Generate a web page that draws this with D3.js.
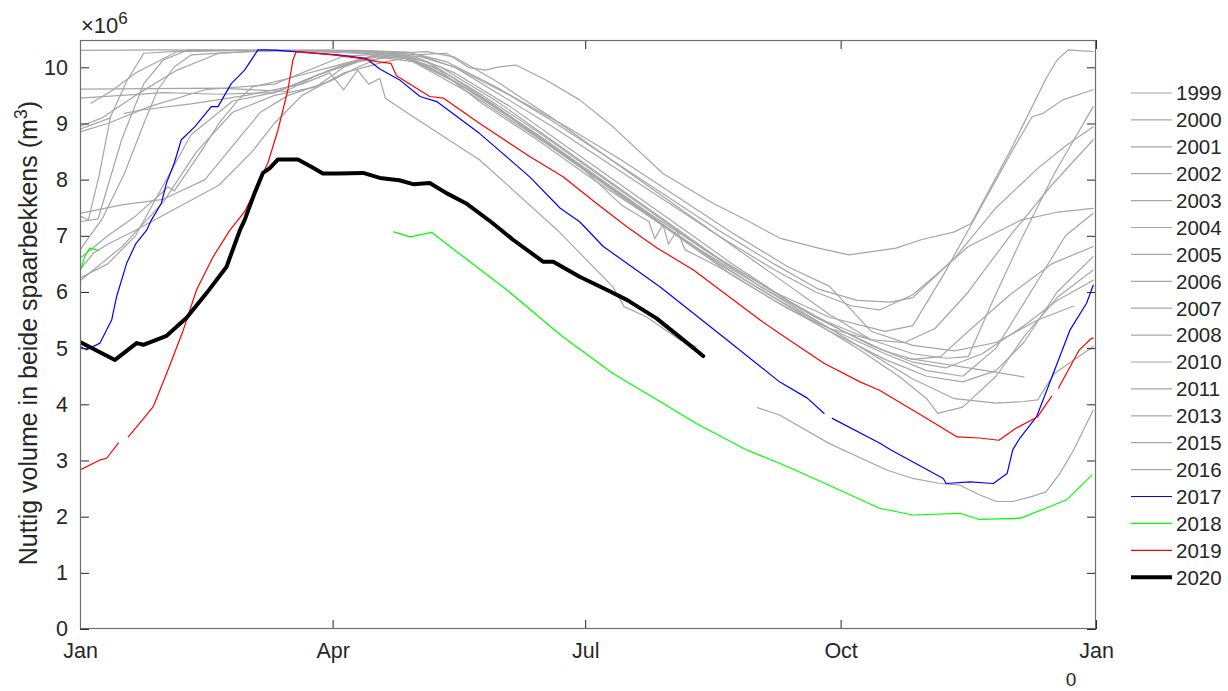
<!DOCTYPE html>
<html><head><meta charset="utf-8">
<script src="https://cdn.jsdelivr.net/npm/d3@7"></script>
<style>
body{margin:0;background:#fff;}
text{font-family:"Liberation Sans",Arial,Helvetica,sans-serif;fill:#262626;}
</style>
</head><body>
<svg id="chart" width="1228" height="691"></svg>
<script>
// ---------- DATA (day of year, volume in 10^6 m3; null = gap) ----------
const years = ["1999","2000","2001","2002","2003","2004","2005","2006","2007","2008","2010","2011","2013","2015","2016","2017","2018","2019","2020"];

const s1999 = [[0,10.30],[30,10.31],[60,10.30],[90,10.30],[110,10.28],[122,10.22],[135,10.0],[150,9.55],[170,8.95],[190,8.3],[210,7.65],[230,7.0],[250,6.4],[265,6.0],[278,5.75],[288,5.68],[300,5.95],[309,6.33],[320,6.81],[339,7.28],[352,7.42],[365,7.49]];
const s2000 = [[0,9.61],[25,9.62],[50,9.63],[74,9.57],[85,9.85],[95,10.05],[108,10.2],[120,10.22],[132,10.25],[140,10.0],[146,9.95],[150,10.0],[157,10.04],[168,9.77],[180,9.42],[192,8.94],[210,8.11],[228,7.58],[240,7.28],[252,6.96],[266,6.78],[277,6.66],[294,6.78],[303,6.93],[315,7.07],[321,7.22],[329,7.95],[336,8.6],[343,9.3],[348,9.8],[352,10.13],[356,10.31],[365,10.28]];
const s2001 = [[0,9.45],[15,9.5],[30,9.55],[50,9.52],[70,9.55],[85,9.85],[100,10.1],[115,10.2],[128,10.0],[145,9.35],[165,8.7],[185,8.0],[205,7.35],[225,6.7],[245,6.1],[265,5.55],[285,5.15],[300,4.9],[312,4.82],[320,4.85],[329,5.86],[339,6.93],[351,8.11],[365,9.3]];
const s2002 = [[0,8.95],[8,9.1],[20,9.5],[35,9.95],[50,10.25],[70,10.3],[100,10.3],[118,10.27],[132,10.1],[150,9.65],[170,9.05],[190,8.4],[210,7.75],[230,7.1],[250,6.5],[266,6.05],[280,5.85],[292,5.82],[300,5.9],[315,6.6],[330,7.5],[345,8.2],[355,8.6],[365,8.94]];
const s2003 = [[0,8.85],[10,9.0],[25,9.3],[45,9.6],[70,9.7],[95,10.2],[115,10.25],[130,10.0],[150,9.4],[170,8.7],[190,8.0],[210,7.3],[230,6.6],[250,6.0],[270,5.55],[290,5.3],[300,5.4],[311,6.3],[322,7.28],[336,8.53],[343,9.12],[347,9.18],[354,9.42],[365,9.60]];
const s2004 = [[0,7.35],[3,7.28],[7,8.1],[11,9.12],[17,9.77],[23,10.25],[40,10.3],[70,10.3],[100,10.28],[120,10.2],[135,9.9],[155,9.3],[175,8.6],[195,7.9],[215,7.2],[235,6.5],[255,5.85],[275,5.3],[290,4.95],[300,4.8],[310,4.85],[320,5.3],[335,5.95],[350,6.5],[365,6.81]];
const s2005 = [[0,7.25],[6.5,7.3],[15,8.71],[23,9.71],[30,10.13],[39,10.31],[70,10.3],[100,10.25],[118,10.15],[135,9.75],[155,9.1],[175,8.4],[195,7.7],[215,7.0],[235,6.3],[255,5.7],[270,5.35],[285,5.15],[297,5.1],[308,5.35],[320,6.0],[335,7.0],[350,7.9],[365,8.71]];
const s2006 = [[0,6.75],[8,7.3],[16,8.11],[23,9.0],[28,9.6],[34,10.01],[40,10.22],[60,10.28],[90,10.3],[115,10.2],[130,9.95],[150,9.3],[170,8.6],[190,7.9],[210,7.2],[230,6.5],[250,5.9],[270,5.35],[290,4.9],[305,4.6],[318,4.5],[330,5.0],[345,6.2],[355,7.0],[365,7.4]];
const s2007 = [[0,6.6],[10,7.0],[20,7.35],[28,7.7],[31.7,7.87],[34,7.8],[44,8.53],[50,9.0],[57,9.42],[62,9.65],[75,9.8],[90,10.0],[105,10.2],[120,10.1],[140,9.55],[160,8.9],[180,8.25],[195,7.55],[205,7.25],[207,6.95],[210,7.2],[212,6.85],[215,7.1],[218,6.75],[230,6.45],[250,5.85],[270,5.3],[290,4.8],[305,4.5],[318,4.4],[330,4.6],[340,5.1],[352,6.0],[365,6.63]];
const s2008 = [[0,6.25],[10,6.5],[20,7.0],[30,7.9],[40,8.8],[55,9.4],[70,9.55],[90,9.95],[105,10.2],[120,10.15],[140,9.6],[160,8.95],[180,8.25],[200,7.55],[220,6.85],[240,6.2],[260,5.6],[280,5.0],[295,4.5],[305,4.1],[309,3.84],[318,3.95],[330,4.5],[340,5.2],[352,5.9],[365,6.39]];
const s2010 = [[0,6.2],[15,6.8],[30,7.6],[42,8.5],[55,9.2],[70,9.5],[85,9.65],[95,10.0],[110,10.28],[125,10.1],[145,9.5],[165,8.85],[185,8.15],[205,7.45],[225,6.75],[245,6.1],[265,5.5],[285,4.9],[300,4.45],[315,4.1],[330,4.02],[340,4.05],[345,4.08],[351,4.55],[365,5.03]];
const s2011 = [[4,9.36],[12,9.6],[20,9.9],[35,10.28],[60,10.3],[90,10.3],[112,10.25],[128,9.95],[145,9.45],[165,8.8],[185,8.1],[205,7.4],[225,6.75],[245,6.15],[265,5.55],[285,5.05],[300,4.75],[312,4.65],[325,4.9],[340,5.4],[352,5.85],[365,6.21]];
const s2013 = [[0,7.4],[15,7.55],[30,7.65],[45,8.0],[55,8.6],[65,9.2],[75,9.5],[90,9.75],[100,10.0],[112,10.25],[125,10.28],[135,10.18],[150,9.75],[170,9.1],[190,8.4],[210,7.7],[230,7.0],[250,6.3],[270,5.6],[285,5.15],null,[298,4.82],[320,4.65],[340,4.49]];
const s2015 = [[0,6.4],[5,6.7],[10,6.85],[20,7.1],[35,7.5],[50,7.9],[62,8.5],[70,9.0],[80,9.5],[95,9.9],[110,10.1],[122,10.2],[135,10.0],[155,9.5],[175,8.95],[195,8.35],[215,7.7],[235,7.05],[255,6.45],[270,6.1],[285,5.3],[300,5.05],[315,4.95],[330,5.1],[345,5.5],[358,5.75]];
const s2016 = [[0,8.9],[11,9.1],null,[16,9.18],[22,9.24],[40,9.35],[60,9.5],[80,9.7],[90,9.9],[95,9.6],[100,9.95],[104,9.7],[108,9.8],[110,9.45],[120,9.12],[144,8.35],[172,7.1],[192,6.09],[196,5.74],[204,5.56],[216,5.15],[222,5.03],null,[244,3.94],[252,3.81],[270,3.3],[290.6,2.83],[300,2.68],[309.8,2.59],[317,2.56],[324,2.39],[330,2.27],[336,2.27],[343,2.36],[348,2.44],[353,2.77],[358,3.19],[365,3.9]];
const s2017 = [[0,5.03],[2.4,4.97],[7.2,5.09],[11.4,5.5],[13.2,5.92],[16.8,6.51],[20,6.85],[24,7.1],[25.7,7.28],[29.3,7.58],[31.1,7.93],[34,8.3],[36.5,8.71],[41.3,8.94],[47.3,9.3],[49.7,9.3],[54.5,9.71],[59.3,9.95],[64.1,10.31],[66.5,10.31],[71.3,10.30],[77.3,10.28],[93,10.22],[103,10.16],[108,9.97],[115,9.78],[122.5,9.48],[128.5,9.39],[144,8.82],[162,8.05],[173,7.49],[180,7.25],[188.5,6.81],[209,6.09],[233,5.15],[252,4.40],[262,4.11],[268,3.84],null,[271,3.75],[288,3.31],[292,3.19],[311,2.68],[312,2.59],[320.6,2.62],[329,2.59],[334,2.77],[336,3.19],[338.6,3.40],[344.6,3.78],[350.6,4.55],[356.6,5.32],[362.6,5.80],[365,6.12]];
const s2018 = [[0,6.36],[1.7,6.63],[3.5,6.78],[6.5,6.74],null,[113,7.07],[119,6.98],[126.7,7.06],[138,6.63],[153.7,6.04],[174,5.2],[192,4.55],[210,4.02],[222,3.66],[240,3.19],[252,2.95],[259,2.80],[273.8,2.47],[288,2.15],[300,2.03],[317,2.06],[324,1.95],[338.6,1.97],[348,2.15],[355.4,2.3],[364.5,2.74]];
const s2019 = [[0,2.83],[7.2,3.01],[9.6,3.04],[13.8,3.31],null,[17.4,3.42],[20.4,3.60],[26.4,3.96],[31.2,4.55],[37.2,5.32],[42,6.04],[48,6.63],[54,7.10],[59.3,7.43],[64,7.9],[67.7,8.3],[71.3,8.88],[74.9,9.60],[76.7,10.13],[77.9,10.28],[91,10.22],[101,10.16],[107,10.10],[112,10.07],[114,9.85],[126,9.48],[131,9.45],[144,9.00],[162,8.41],[174,8.05],[186,7.58],[197,7.16],[208,6.78],[221,6.39],[245,5.50],[252,5.26],[268,4.73],[281,4.40],[288,4.25],[304,3.78],[316,3.42],[324,3.40],[331,3.36],[337,3.57],[345,3.78],[350,4.14],null,[352.5,4.29],[360,4.97],[364.5,5.18],[365,5.18]];
const s2020 = [[0,5.11],[12.6,4.79],[20.4,5.09],[22.8,5.06],[31.2,5.22],[38.4,5.54],[45.6,5.98],[52.8,6.45],[57.6,7.10],[59.3,7.28],[62.9,7.76],[65.9,8.12],[68.3,8.20],[71.3,8.36],[78.5,8.36],[83.3,8.23],[87.5,8.11],[92.9,8.11],[102,8.12],[108,8.03],[115,7.99],[120,7.92],[126,7.94],[132,7.76],[139,7.58],[148,7.25],[156,6.93],[166.8,6.54],[170.5,6.54],[180,6.27],[189.7,6.04],[197,5.86],[207.7,5.53],[216,5.20],[224.5,4.86]];

const xTickDays = [0,91,182,274,366];
const xTickLabels = ["Jan","Apr","Jul","Oct","Jan"];
const yTickValues = [0,1,2,3,4,5,6,7,8,9,10];
const yearOffsetLabel = "0";

// ---------- STYLE ----------
const seriesData = [s1999,s2000,s2001,s2002,s2003,s2004,s2005,s2006,s2007,s2008,s2010,s2011,s2013,s2015,s2016,s2017,s2018,s2019,s2020];
const GRAY = "#a6a6a6";
const colorOf = y => ({"2017":"#0000ff","2018":"#00ff00","2019":"#ff0000","2020":"#000000"}[y] || GRAY);
const widthOf = y => (y === "2020" ? 4 : 1.2);

const L = 80, R = 1096, T = 40, B = 629;
const svg = d3.select("#chart");
const x = d3.scaleLinear().domain([0,366]).range([L,R]);
const y = d3.scaleLinear().domain([0,10.486]).range([B,T]);

svg.append("clipPath").attr("id","clip").append("rect")
  .attr("x",L).attr("y",T).attr("width",R-L).attr("height",B-T);

const line = d3.line().defined(d => d !== null).x(d => x(d[0])).y(d => y(d[1]));

const plot = svg.append("g").attr("clip-path","url(#clip)");
years.forEach((yr,i) => {
  plot.append("path").datum(seriesData[i])
    .attr("fill","none").attr("stroke",colorOf(yr)).attr("stroke-width",widthOf(yr))
    .attr("stroke-linejoin","round").attr("stroke-linecap","round")
    .attr("d",line);
});

// axes (ticks inside, MATLAB style box)
const axColor = "#262626";
function styleAxis(g, fs){
  g.select(".domain").remove();
  g.selectAll(".tick line").attr("stroke",axColor).attr("stroke-width",1);
  g.selectAll(".tick text").attr("font-size",fs).attr("fill",axColor)
    .style("font-family","'Liberation Sans',Arial,sans-serif");
}
svg.append("g").attr("transform",`translate(${L},0)`)
  .call(d3.axisLeft(y).tickValues(yTickValues).tickSize(-9).tickPadding(12).tickFormat(d3.format("d")))
  .call(g => styleAxis(g,21.5));
svg.append("g").attr("transform",`translate(${R},0)`)
  .call(d3.axisRight(y).tickValues(yTickValues).tickSize(-9).tickFormat(""))
  .call(g => styleAxis(g,21));
svg.append("g").attr("transform",`translate(0,${B})`)
  .call(d3.axisBottom(x).tickValues(xTickDays).tickSize(-9).tickPadding(14).tickFormat((d,i) => xTickLabels[i]))
  .call(g => styleAxis(g,21.5));
svg.append("g").attr("transform",`translate(0,${T})`)
  .call(d3.axisTop(x).tickValues(xTickDays).tickSize(-9).tickFormat(""))
  .call(g => styleAxis(g,21));

svg.append("rect").attr("x",L+0.5).attr("y",T+0.5).attr("width",R-L-1).attr("height",B-T-1)
  .attr("fill","none").attr("stroke","#6e6e6e").attr("stroke-width",1.2);

// year offset label below last tick
svg.append("text").attr("x",1071).attr("y",686).attr("text-anchor","middle")
  .attr("font-size",19).text(yearOffsetLabel);

// exponent label
const ex = svg.append("text").attr("x",81).attr("y",33).attr("font-size",22);
ex.append("tspan").text("\u00d710");
ex.append("tspan").attr("font-size",17).attr("dy",-9).text("6");

// y-axis label
const yl = svg.append("text").attr("transform","translate(37,333) rotate(-90)")
  .attr("text-anchor","middle").attr("font-size",25);
yl.append("tspan").text("Nuttig volume in beide spaarbekkens (m");
yl.append("tspan").attr("font-size",18).attr("dy",-10).text("3");
yl.append("tspan").attr("dy",10).text(")");

// legend
const lg = svg.append("g");
years.forEach((yr,i) => {
  const yy = 93 + i*26.9;
  lg.append("line").attr("x1",1131).attr("x2",1172).attr("y1",yy).attr("y2",yy)
    .attr("stroke",colorOf(yr)).attr("stroke-width",widthOf(yr));
  lg.append("text").attr("x",1176).attr("y",yy).attr("dy","0.36em")
    .attr("font-size",20.5).attr("fill","#000").text(yr);
});
</script>
</body></html>
